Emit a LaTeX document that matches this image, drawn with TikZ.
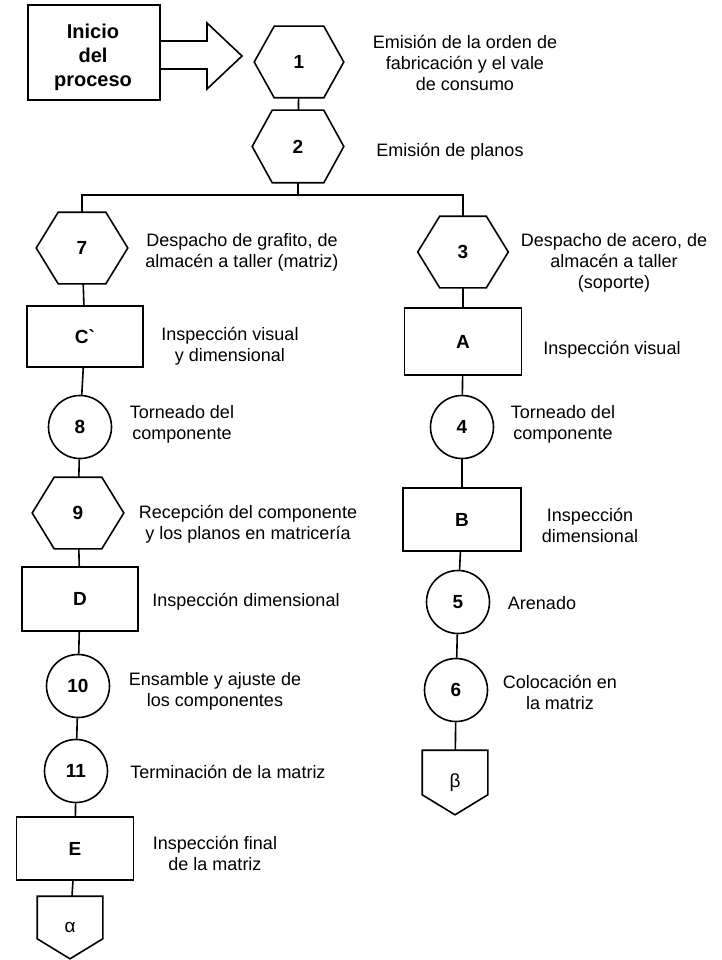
\documentclass[tikz,border=0pt]{standalone}
\usepackage{fontspec}
\setmainfont{Liberation Sans}
\newcommand\numfont{\fontsize{19}{22}\selectfont\bfseries}
\newcommand\hexo[2][21]{\draw[shp] ([xshift=#1pt]#2.north west) -- ([xshift=-#1pt]#2.north east) -- (#2.east) -- ([xshift=-#1pt]#2.south east) -- ([xshift=#1pt]#2.south west) -- (#2.west) -- cycle;}
\newcommand\pento[1]{\draw[shp] (#1.north west) -- (#1.north east) -- ([yshift=20pt]#1.south east) -- (#1.south) -- ([yshift=20pt]#1.south west) -- cycle;}
\begin{document}
\begin{tikzpicture}[x=1pt,y=-1pt,line width=1.6pt,
  shp/.style={line width=1.6pt},
  lbl/.style={font=\fontsize{18}{21}\selectfont, align=center, inner sep=0pt},
  hexn/.style 2 args={rectangle, minimum width=#1, minimum height=#2, inner sep=0pt, font=\numfont},
  rectn/.style 2 args={draw, rectangle, minimum width=#1, minimum height=#2, inner sep=0pt, font=\numfont},
  circn/.style={draw, circle, minimum size=63pt, inner sep=0pt, font=\numfont},
  pentn/.style={rectangle, minimum width=64pt, minimum height=#1, inner sep=0pt, font=\fontsize{19}{22}\selectfont}]
\useasboundingbox (0,0) rectangle (722,960);

% start
\node[draw, rectangle, minimum width=132pt, minimum height=95pt, inner sep=0pt] (start) at (94,52.5) {};
\node[font=\bfseries\fontsize{20}{24}\selectfont, align=center, inner sep=0pt] (starttxt) at (93,57) {Inicio\\del\\proceso};
\draw[shp] (start.east |- 0,41) -- (207,41) -- (207,23) -- (242,56) -- (207,89) -- (207,69) -- (start.east |- 0,69);

% top
\node[hexn={88pt}{70pt}] (h1) at (299,62) {1};
\node[hexn={90pt}{71pt}] (h2) at (298,146.5) {2};
\hexo[20]{h1}
\hexo[20]{h2}
\draw (h1) -- (h2);
\coordinate (br) at (298,195);
\draw (h2) -- (br);

% left column
\node[hexn={90pt}{70pt}] (h7) at (82,248) {7};
\hexo[22]{h7}
\node[rectn={116pt}{61pt}] (C) at (85,336.5) {C\textasciigrave};
\node[circn] (c8) at (80,427) {8};
\node[hexn={90pt}{70pt}] (h9) at (78,513) {9};
\hexo[22]{h9}
\node[rectn={116pt}{64pt}] (D) at (80,599) {D};
\node[circn] (c10) at (78,686) {10};
\node[circn] (c11) at (76,771) {11};
\node[rectn={117pt}{63pt}] (E) at (75,848.5) {E};
\node[pentn=61pt] (alpha) at (70,927.5) {α};
\pento{alpha}

% right column
\node[hexn={89pt}{70pt}] (h3) at (463,252) {3};
\hexo[22]{h3}
\node[rectn={117pt}{67pt}] (A) at (463,341.5) {A};
\node[circn] (c4) at (462,427) {4};
\node[rectn={118pt}{63pt}] (B) at (462,519.5) {B};
\node[circn] (c5) at (458,602) {5};
\node[circn] (c6) at (456,690) {6};
\node[pentn=63pt] (beta) at (455,782.5) {β};
\pento{beta}

% branch
\draw (h7.north) |- (br) -| (h3.north);

% connectors
\draw (h7) -- (C);
\draw (C) -- (c8);
\draw (c8) -- (h9);
\draw (h9) -- (D);
\draw (D) -- (c10);
\draw (c10) -- (c11);
\draw (c11) -- (E);
\draw (E) -- (alpha);
\draw (h3) -- (A);
\draw (A) -- (c4);
\draw (c4) -- (B);
\draw (B) -- (c5);
\draw (c5) -- (c6);
\draw (c6) -- (beta);

% labels
\node[lbl] (l1) at (465,63) {Emisión de la orden de\\fabricación y el vale\\de consumo};
\node[lbl] (l2) at (450,152) {Emisión de planos};
\node[lbl] (l7) at (242,252) {Despacho de grafito, de\\almacén a taller (matriz)};
\node[lbl] (l3) at (614,263) {Despacho de acero, de\\almacén a taller\\(soporte)};
\node[lbl] (lC) at (230,346) {Inspección visual\\y dimensional};
\node[lbl] (lA) at (612,350) {Inspección visual};
\node[lbl] (l8) at (182,424) {Torneado del\\componente};
\node[lbl] (l4) at (563,424) {Torneado del\\componente};
\node[lbl] (l9) at (248,524) {Recepción del componente\\y los planos en matricería};
\node[lbl] (lD) at (246,602) {Inspección dimensional};
\node[lbl] (lB) at (590,525) {Inspección\\dimensional};
\node[lbl] (l5) at (542,603) {Arenado};
\node[lbl] (l10) at (215,691) {Ensamble y ajuste de\\los componentes};
\node[lbl] (l6) at (560,692) {Colocación en\\la matriz};
\node[lbl] (l11) at (228,772) {Terminación de la matriz};
\node[lbl] (lE) at (215,853) {Inspección final\\de la matriz};
\end{tikzpicture}
\end{document}
